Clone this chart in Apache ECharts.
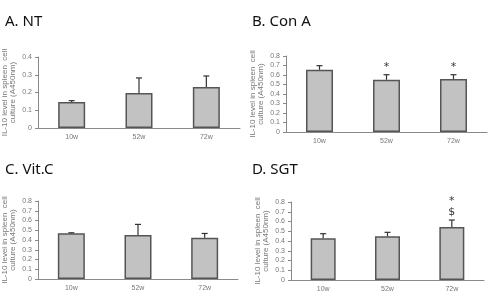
<!DOCTYPE HTML>
<html>
<head>
    <meta charset="UTF-8">
    <title>IL-10</title>
    <script src="https://cdn.jsdelivr.net/npm/echarts@6/dist/echarts.min.js"></script>
</head>
<style type="text/css">
    body {
        margin: 0;
        padding: 0;
        background: #fff;
    }
</style>
<body>
<div id="main" style="width: 496px;height: 296px;"></div>
</body>
<script type="text/javascript">
    // data
    const weeks = ['10w', '52w', '72w'];
    const panelTitles = ['A. NT', 'B. Con A', 'C. Vit.C', 'D. SGT'];
    const ntMean = [0.146, 0.197, 0.231];
    const ntErr = [0.154, 0.282, 0.293];
    const conaMean = [0.655, 0.550, 0.557];
    const conaErr = [0.698, 0.603, 0.603];
    const vitcMean = [0.468, 0.452, 0.424];
    const vitcErr = [0.474, 0.560, 0.467];
    const sgtMean = [0.427, 0.448, 0.544];
    const sgtErr = [0.475, 0.489, 0.615];
    const conaMarks = ['', '*', '*'];
    const sgtMarks = ['', '', '*\n$'];
    const yMaxes = [0.4, 0.8, 0.8, 0.8];

    const means = [ntMean, conaMean, vitcMean, sgtMean];
    const errs = [ntErr, conaErr, vitcErr, sgtErr];
    const marks = [['', '', ''], conaMarks, ['', '', ''], sgtMarks];

    const grids = [
        {left: 36, top: 57, width: 204, height: 71},
        {left: 286, top: 56, width: 201, height: 76},
        {left: 37, top: 201, width: 201, height: 78},
        {left: 291, top: 202, width: 193, height: 78}
    ];
    const titlePos = [[5, 14], [252, 14], [5, 162], [252, 162]];
    const barWidths = [27, 27, 27, 25];

    const chartDom = document.getElementById('main');
    const myChart = echarts.init(chartDom);

    const axisGray = '#8a8a8a';
    const labelGray = '#777';

    function renderErr(params, api) {
        const x = api.coord([api.value(0), api.value(1)]);
        const top = api.coord([api.value(0), api.value(2)]);
        const mark = marks[params.seriesIndex / 2 | 0][params.dataIndex];
        const children = [
            {type: 'line', shape: {x1: x[0], y1: x[1], x2: top[0], y2: top[1]}, style: {stroke: '#333', lineWidth: 1.2}},
            {type: 'line', shape: {x1: top[0] - 3, y1: top[1], x2: top[0] + 3, y2: top[1]}, style: {stroke: '#333', lineWidth: 1.2}}
        ];
        if (mark) {
            children.push({
                type: 'text',
                style: {
                    text: mark, x: top[0], y: top[1] - 2,
                    align: 'center', verticalAlign: 'bottom',
                    fontSize: 11, lineHeight: 11, fill: '#333',
                    fontFamily: 'DejaVu Sans'
                }
            });
        }
        return {type: 'group', children: children};
    }

    const option = {
        animation: false,
        title: panelTitles.map((t, i) => ({
            text: t, left: titlePos[i][0], top: titlePos[i][1], padding: 0,
            textStyle: {fontSize: 15, fontWeight: 'normal', color: '#111', fontFamily: 'Noto Sans'}
        })),
        grid: grids,
        xAxis: grids.map((g, i) => ({
            type: 'category', gridIndex: i, data: weeks,
            axisLine: {lineStyle: {color: axisGray}},
            axisTick: {length: 3, lineStyle: {color: axisGray}},
            axisLabel: {fontSize: 7, color: labelGray, margin: 6}
        })),
        yAxis: grids.map((g, i) => ({
            type: 'value', gridIndex: i, min: 0, max: yMaxes[i], interval: 0.1,
            name: 'IL-10 level in spleen  cell\nculture (A450nm)',
            nameLocation: 'middle', nameRotate: 90, nameGap: 21,
            nameTextStyle: {fontSize: 8, color: labelGray, lineHeight: 8},
            axisLine: {show: true, lineStyle: {color: axisGray}},
            axisTick: {show: true, length: 3, lineStyle: {color: axisGray}},
            splitLine: {show: false},
            axisLabel: {fontSize: 7, color: labelGray, margin: 6}
        })),
        series: []
    };

    means.forEach((m, i) => {
        option.series.push({
            type: 'bar', xAxisIndex: i, yAxisIndex: i, data: m,
            barWidth: barWidths[i],
            itemStyle: {color: '#c2c2c2', borderColor: '#555', borderWidth: 1.5}
        });
        option.series.push({
            type: 'custom', xAxisIndex: i, yAxisIndex: i,
            renderItem: renderErr,
            data: m.map((v, k) => [k, v, errs[i][k]]),
            z: 3
        });
    });

    myChart.setOption(option);
</script>
</html>
